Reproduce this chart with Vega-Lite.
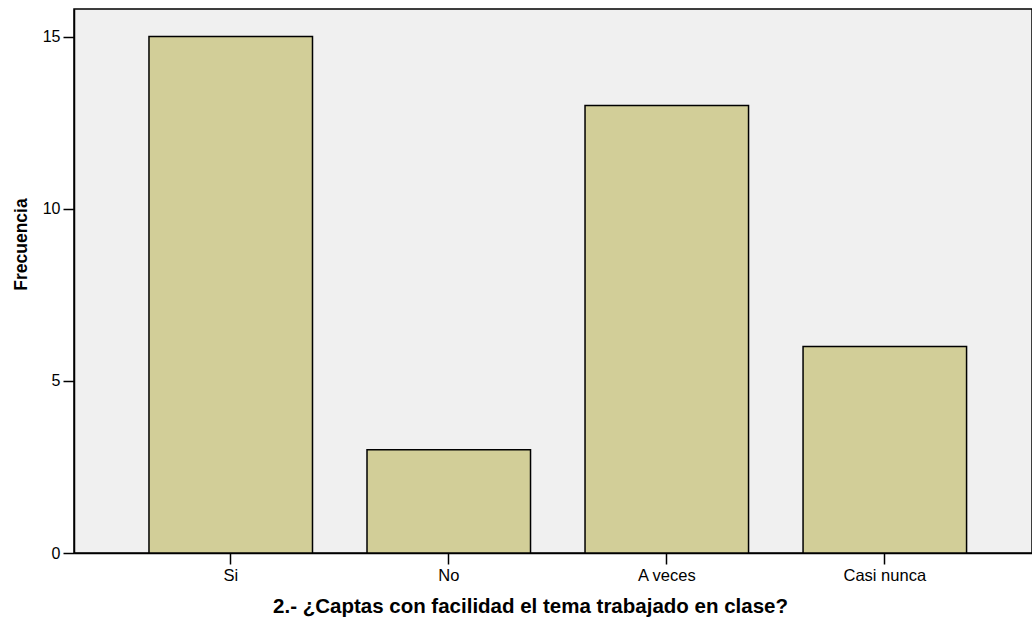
{
  "$schema": "https://vega.github.io/schema/vega-lite/v6.json",
  "width": 958,
  "height": 544,
  "autosize": {"type": "none"},
  "padding": {"left": 74, "top": 9, "right": 0, "bottom": 67},
  "background": "#ffffff",
  "config": {
    "view": {"fill": "#f0f0f0", "stroke": "#000000", "strokeWidth": 1.5},
    "font": "Liberation Sans"
  },
  "data": {
    "values": [
      {"respuesta": "Si", "frecuencia": 15},
      {"respuesta": "No", "frecuencia": 3},
      {"respuesta": "A veces", "frecuencia": 13},
      {"respuesta": "Casi nunca", "frecuencia": 6}
    ]
  },
  "mark": {"type": "bar", "fill": "#d2ce98", "stroke": "#000000", "strokeWidth": 1.5},
  "encoding": {
    "x": {
      "field": "respuesta",
      "type": "nominal",
      "sort": ["Si", "No", "A veces", "Casi nunca"],
      "scale": {"paddingInner": 0.25, "paddingOuter": 0.322, "align": 0.534},
      "axis": {
        "title": "2.- ¿Captas con facilidad el tema trabajado en clase?",
        "titleFont": "Liberation Sans",
        "titleFontSize": 20.5,
        "titleFontWeight": "bold",
        "titleColor": "#000000",
        "titleX": 456,
        "titleY": 59,
        "titleBaseline": "alphabetic",
        "titleAnchor": null,
        "labelAngle": 0,
        "labelFontSize": 16.5,
        "labelColor": "#000000",
        "labelPadding": 3,
        "tickSize": 11,
        "tickColor": "#000000",
        "tickWidth": 1.5,
        "domainColor": "#000000",
        "domainWidth": 1.5,
        "grid": false
      }
    },
    "y": {
      "field": "frecuencia",
      "type": "quantitative",
      "scale": {"domain": [0, 15.8], "nice": false},
      "axis": {
        "title": "Frecuencia",
        "titleFont": "Liberation Sans",
        "titleFontSize": 17.5,
        "titleFontWeight": "bold",
        "titleColor": "#000000",
        "titleX": -44,
        "titleY": 235,
        "titleAnchor": null,
        "values": [0, 5, 10, 15],
        "labelFontSize": 16,
        "labelColor": "#000000",
        "labelPadding": 3,
        "tickSize": 11,
        "tickColor": "#000000",
        "tickWidth": 1.5,
        "domainColor": "#000000",
        "domainWidth": 1.5,
        "grid": false
      }
    }
  }
}
